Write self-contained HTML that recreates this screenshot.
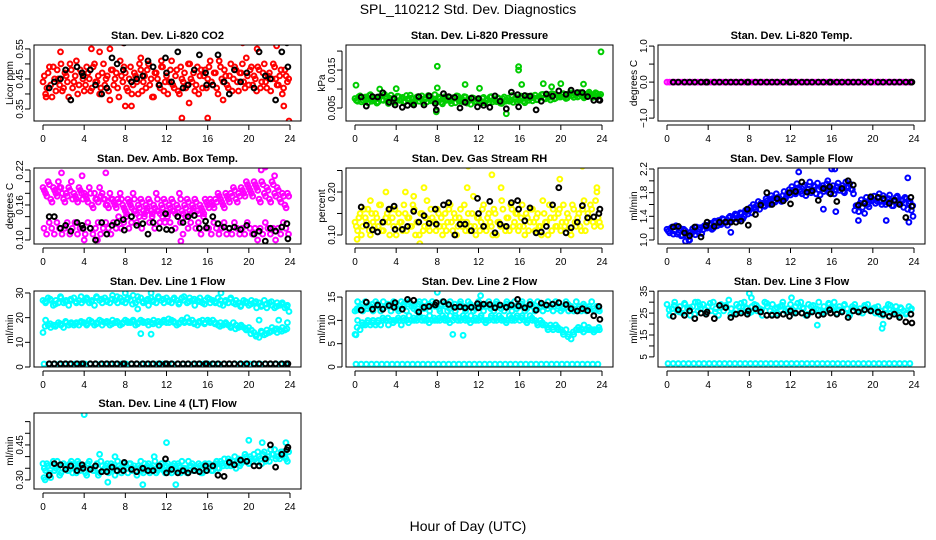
<!DOCTYPE html>
<html><head><meta charset="utf-8"><style>
html,body{margin:0;padding:0;background:#fff;}
svg{display:block;font-family:"Liberation Sans",Arial,sans-serif;}
</style></head><body>
<svg id="chart" width="936" height="540" viewBox="0 0 936 540" xmlns="http://www.w3.org/2000/svg">
<rect x="0" y="0" width="936" height="540" fill="#fff"/>
<text x="468" y="14" font-size="14" text-anchor="middle">SPL_110212  Std. Dev. Diagnostics</text>
<text x="468" y="531" font-size="14" text-anchor="middle">Hour of Day (UTC)</text>
</svg>
<script>
// ---- shared hour positions for black points ----
const blackHours=[0.6,1.1,1.7,2.2,2.7,3.3,3.8,3.9,4.6,5.1,5.7,6.2,6.7,7.2,7.8,7.9,8.6,9.1,9.7,10.2,10.7,11.3,11.9,12.0,12.5,13.1,13.6,14.1,14.7,15.2,15.8,15.9,16.5,17.0,17.6,18.1,18.6,19.2,19.8,20.5,21.0,21.6,22.1,22.6,23.2,23.7,23.8];
const xTicks=[0,4,8,12,16,20,24];

// ---- CO2 ----
const co2Main=[0.44,0.40,0.47,0.43,0.49,0.41,0.45,0.50,0.42,0.46,0.39,0.48,0.44,0.51,0.43,0.47,0.41,0.49,0.45,0.42,0.50,0.44,0.40,0.47,0.43,0.46,0.38,0.48,0.45,0.42,0.51,0.44,0.47,0.41,0.49,0.43,0.46,0.40,0.48,0.44,0.42,0.50,0.45,0.39,0.47,0.43,0.49,0.41,0.46,0.44,0.51,0.42,0.48,0.40,0.45,0.47,0.43,0.50,0.44,0.41,0.49,0.46,0.42,0.48,0.45,0.51,0.43,0.47,0.40,0.49,0.44,0.46,0.42,0.50,0.45,0.48,0.41,0.47,0.44,0.52,0.43,0.49,0.46,0.41,0.48,0.44,0.50,0.42,0.47,0.45,0.49,0.43,0.46,0.40,0.48,0.44];
const co2Main2=[0.46,0.42,0.49,0.39,0.45,0.48,0.43,0.41,0.47,0.44,0.50,0.42,0.46,0.40,0.48,0.45,0.43,0.47,0.41,0.49,0.44,0.46,0.42,0.50,0.45,0.41,0.48,0.43,0.47,0.39,0.46,0.49,0.42,0.45,0.40,0.47,0.44,0.50,0.41,0.46,0.48,0.43,0.39,0.47,0.45,0.42,0.49,0.44,0.40,0.48,0.43,0.46,0.41,0.49,0.44,0.42,0.50,0.45,0.47,0.43,0.40,0.48,0.46,0.42,0.49,0.44,0.47,0.42,0.51,0.45,0.48,0.43,0.46,0.41,0.49,0.44,0.47,0.50,0.42,0.46,0.48,0.43,0.45,0.49,0.42,0.47,0.44,0.46,0.41,0.50,0.45,0.43,0.48,0.42,0.46,0.45];
const co2OutX=[1.7,4.7,5.5,7.8,8.0,8.6,11.5,13.5,14.2,16.0,19.4,19.6,20.8,22.7,23.4,23.9,0.3,9.5,6.5,17.5];
const co2OutY=[0.54,0.55,0.54,0.57,0.36,0.36,0.51,0.32,0.37,0.32,0.57,0.58,0.55,0.56,0.36,0.31,0.39,0.52,0.55,0.38];
const co2Black=[0.42,0.44,0.45,0.48,0.38,0.49,0.47,0.46,0.48,0.43,0.40,0.42,0.52,0.50,0.48,0.57,0.44,0.45,0.46,0.51,0.49,0.43,0.52,0.47,0.44,0.54,0.42,0.43,0.48,0.53,0.47,0.43,0.43,0.53,0.44,0.40,0.48,0.44,0.47,0.42,0.54,0.46,0.45,0.38,0.54,0.57,0.49];

// ---- Pressure ----
const presMain=[0.0075,0.0068,0.0082,0.0071,0.0079,0.0064,0.0085,0.0072,0.0077,0.0066,0.0081,0.0070,0.0078,0.0062,0.0084,0.0073,0.0069,0.0080,0.0074,0.0065,0.0083,0.0071,0.0076,0.0063,0.0079,0.0068,0.0082,0.0072,0.0066,0.0078,0.0070,0.0085,0.0067,0.0075,0.0061,0.0080,0.0072,0.0069,0.0077,0.0064,0.0081,0.0071,0.0066,0.0079,0.0073,0.0060,0.0076,0.0068,0.0074,0.0063,0.0078,0.0070,0.0065,0.0080,0.0072,0.0067,0.0075,0.0062,0.0079,0.0071,0.0068,0.0083,0.0073,0.0066,0.0070,0.0077,0.0064,0.0081,0.0075,0.0069,0.0084,0.0072,0.0078,0.0086,0.0074,0.0080,0.0071,0.0087,0.0076,0.0082,0.0079,0.0088,0.0075,0.0083,0.0090,0.0078,0.0085,0.0081,0.0089,0.0077,0.0086,0.0092,0.0080,0.0084,0.0088,0.0082];
const presMain2=[0.0070,0.0080,0.0066,0.0077,0.0072,0.0083,0.0068,0.0075,0.0063,0.0079,0.0071,0.0086,0.0069,0.0076,0.0073,0.0065,0.0081,0.0070,0.0078,0.0067,0.0074,0.0084,0.0066,0.0072,0.0080,0.0075,0.0064,0.0077,0.0083,0.0069,0.0074,0.0067,0.0079,0.0065,0.0073,0.0070,0.0078,0.0062,0.0075,0.0082,0.0068,0.0074,0.0080,0.0063,0.0070,0.0077,0.0066,0.0073,0.0069,0.0076,0.0064,0.0072,0.0079,0.0066,0.0071,0.0077,0.0063,0.0074,0.0068,0.0076,0.0070,0.0065,0.0078,0.0072,0.0081,0.0068,0.0074,0.0070,0.0082,0.0077,0.0072,0.0080,0.0085,0.0076,0.0083,0.0078,0.0088,0.0074,0.0084,0.0079,0.0086,0.0081,0.0077,0.0089,0.0083,0.0087,0.0079,0.0091,0.0084,0.0080,0.0088,0.0085,0.0078,0.0090,0.0083,0.0086];
const presOutX=[0.1,8.0,8.0,10.7,12.1,15.9,15.9,16.2,18.3,19.1,20.0,22.2,23.9,14.7,7.9,2.4,4.0];
const presOutY=[0.0110,0.0160,0.0103,0.0112,0.0102,0.0159,0.0150,0.0112,0.0114,0.0106,0.0114,0.0113,0.0198,0.0035,0.0040,0.0100,0.0101];
const presBlack=[0.0079,0.0055,0.0080,0.0079,0.0090,0.0065,0.0075,0.0058,0.0052,0.0057,0.0058,0.0080,0.0058,0.0082,0.0062,0.0045,0.0088,0.0080,0.0078,0.0050,0.0065,0.0076,0.0053,0.0075,0.0057,0.0052,0.0082,0.0068,0.0048,0.0092,0.0085,0.0053,0.0083,0.0081,0.0045,0.0068,0.0087,0.0081,0.0095,0.0086,0.0097,0.0091,0.0091,0.0080,0.0070,0.0071,0.0070];

// ---- Li-820 Temp ----
const tempMain=[0,0,0,0,0,0,0,0,0,0,0,0,0,0,0,0,0,0,0,0,0,0,0,0,0,0,0,0,0,0,0,0,0,0,0,0,0,0,0,0,0,0,0,0,0,0,0,0,0,0,0,0,0,0,0,0,0,0,0,0,0,0,0,0,0,0,0,0,0,0,0,0,0,0,0,0,0,0,0,0,0,0,0,0,0,0,0,0,0,0,0,0,0,0,0,0];
const tempBlack=[0,0,0,0,0,0,0,0,0,0,0,0,0,0,0,0,0,0,0,0,0,0,0,0,0,0,0,0,0,0,0,0,0,0,0,0,0,0,0,0,0,0,0,0,0,0,0];

// ---- Amb. Box Temp ----
const ambUpper=[0.19,0.18,0.20,0.17,0.19,0.18,0.20,0.19,0.17,0.18,0.19,0.20,0.18,0.17,0.19,0.18,0.18,0.17,0.19,0.16,0.18,0.17,0.19,0.18,0.17,0.16,0.18,0.17,0.16,0.17,0.18,0.16,0.15,0.17,0.16,0.18,0.15,0.16,0.17,0.15,0.16,0.17,0.15,0.16,0.18,0.15,0.16,0.17,0.15,0.16,0.17,0.15,0.16,0.18,0.15,0.16,0.17,0.15,0.16,0.17,0.15,0.16,0.15,0.17,0.16,0.17,0.16,0.17,0.18,0.17,0.16,0.18,0.17,0.18,0.19,0.17,0.18,0.19,0.18,0.20,0.19,0.18,0.20,0.19,0.17,0.20,0.18,0.19,0.17,0.20,0.18,0.19,0.17,0.18,0.16,0.18];
const ambUpper2=[0.185,0.175,0.195,0.165,0.185,0.175,0.19,0.18,0.165,0.175,0.185,0.17,0.175,0.165,0.185,0.17,0.175,0.165,0.18,0.155,0.17,0.165,0.175,0.17,0.16,0.155,0.17,0.165,0.155,0.165,0.17,0.155,0.145,0.165,0.155,0.17,0.145,0.155,0.165,0.145,0.155,0.165,0.145,0.155,0.17,0.145,0.155,0.165,0.145,0.155,0.165,0.145,0.155,0.17,0.145,0.155,0.165,0.145,0.155,0.165,0.145,0.155,0.145,0.165,0.155,0.165,0.155,0.165,0.175,0.165,0.155,0.175,0.165,0.175,0.185,0.165,0.175,0.185,0.175,0.195,0.185,0.175,0.195,0.185,0.165,0.195,0.175,0.185,0.165,0.195,0.175,0.185,0.165,0.175,0.155,0.175];
const ambLower=[0.12,0.11,0.13,0.12,0.11,0.13,0.12,0.11,0.12,0.13,0.11,0.12,0.13,0.11,0.12,0.12,0.11,0.13,0.12,0.11,0.12,0.13,0.11,0.12,0.13,0.12,0.11,0.13,0.12,0.14,0.12,0.13,0.14,0.12,0.13,0.15,0.13,0.14,0.12,0.14,0.15,0.13,0.14,0.12,0.15,0.13,0.14,0.13,0.14,0.13,0.15,0.12,0.14,0.13,0.11,0.14,0.12,0.13,0.15,0.12,0.13,0.11,0.14,0.12,0.12,0.11,0.13,0.12,0.11,0.12,0.13,0.11,0.12,0.11,0.13,0.12,0.11,0.12,0.11,0.13,0.12,0.11,0.12,0.10,0.12,0.11,0.13,0.12,0.11,0.12,0.10,0.12,0.11,0.13,0.12,0.11];
const ambOutX=[1.8,3.8,6.1,5.3,13.4,21.2,21.6,22.5,4.0];
const ambOutY=[0.215,0.21,0.215,0.10,0.098,0.22,0.225,0.21,0.10];
const ambBlack=[0.14,0.14,0.12,0.125,0.115,0.13,0.125,0.12,0.12,0.10,0.13,0.11,0.125,0.13,0.135,0.117,0.14,0.125,0.128,0.11,0.13,0.12,0.145,0.118,0.117,0.14,0.13,0.14,0.142,0.12,0.132,0.121,0.14,0.128,0.122,0.12,0.122,0.118,0.125,0.11,0.115,0.098,0.12,0.115,0.122,0.128,0.102];

// ---- Gas Stream RH ----
const rhMain=[0.13,0.11,0.15,0.12,0.14,0.16,0.10,0.13,0.15,0.12,0.17,0.11,0.14,0.13,0.16,0.12,0.10,0.15,0.13,0.17,0.11,0.14,0.12,0.16,0.13,0.10,0.15,0.12,0.18,0.11,0.14,0.13,0.16,0.12,0.10,0.15,0.13,0.17,0.11,0.14,0.12,0.16,0.13,0.11,0.15,0.12,0.19,0.10,0.14,0.13,0.17,0.11,0.15,0.12,0.16,0.10,0.13,0.18,0.12,0.14,0.11,0.16,0.13,0.15,0.12,0.17,0.10,0.14,0.13,0.16,0.11,0.15,0.12,0.18,0.13,0.10,0.14,0.16,0.12,0.15,0.11,0.17,0.13,0.14,0.10,0.16,0.12,0.15,0.11,0.18,0.13,0.14,0.16,0.12,0.20,0.13];
const rhMain2=[0.12,0.14,0.10,0.16,0.13,0.11,0.15,0.12,0.14,0.17,0.11,0.13,0.15,0.10,0.14,0.16,0.12,0.13,0.11,0.15,0.14,0.12,0.17,0.10,0.13,0.15,0.11,0.14,0.12,0.16,0.13,0.11,0.15,0.14,0.12,0.11,0.16,0.13,0.15,0.10,0.14,0.12,0.17,0.13,0.11,0.15,0.12,0.14,0.11,0.16,0.12,0.14,0.13,0.10,0.15,0.13,0.12,0.16,0.11,0.14,0.17,0.12,0.15,0.11,0.14,0.12,0.15,0.11,0.16,0.13,0.14,0.12,0.10,0.15,0.13,0.17,0.11,0.14,0.12,0.16,0.13,0.12,0.15,0.11,0.17,0.13,0.14,0.12,0.16,0.11,0.15,0.17,0.13,0.18,0.14,0.12];
const rhOutX=[11.0,13.3,22.1,19.9,10.9,6.7,0.2,6.3,23.5,3.0,14.2,4.9,1.5,5.7];
const rhOutY=[0.26,0.24,0.26,0.23,0.21,0.21,0.09,0.08,0.21,0.20,0.21,0.20,0.18,0.19];
const rhBlack=[0.165,0.123,0.112,0.107,0.13,0.16,0.167,0.113,0.113,0.12,0.155,0.13,0.145,0.127,0.16,0.125,0.17,0.175,0.10,0.125,0.125,0.11,0.185,0.15,0.12,0.178,0.105,0.125,0.12,0.175,0.18,0.16,0.133,0.163,0.105,0.107,0.12,0.17,0.21,0.105,0.117,0.13,0.168,0.14,0.142,0.15,0.16];

// ---- Sample Flow ----
const sfMain=[1.18,1.12,1.22,1.15,1.10,1.20,1.08,1.16,1.05,1.13,1.19,1.09,1.14,1.21,1.17,1.25,1.22,1.28,1.20,1.30,1.33,1.26,1.35,1.30,1.38,1.32,1.36,1.42,1.34,1.45,1.40,1.48,1.50,1.46,1.55,1.58,1.52,1.62,1.57,1.66,1.60,1.70,1.64,1.72,1.68,1.75,1.70,1.80,1.76,1.84,1.78,1.88,1.82,1.90,1.75,1.86,1.80,1.92,1.78,1.85,1.88,1.82,1.95,1.80,1.86,1.78,1.90,1.84,1.92,1.80,1.88,1.95,1.85,1.50,1.58,1.62,1.55,1.65,1.60,1.70,1.68,1.62,1.72,1.65,1.75,1.60,1.70,1.66,1.58,1.72,1.64,1.68,1.55,1.70,1.62,1.50];
const sfMain2=[1.15,1.20,1.10,1.24,1.13,1.07,1.18,1.12,1.00,1.10,1.15,1.22,1.18,1.11,1.24,1.20,1.26,1.18,1.32,1.24,1.28,1.36,1.30,1.25,1.40,1.35,1.44,1.38,1.46,1.36,1.50,1.44,1.55,1.60,1.52,1.65,1.62,1.58,1.70,1.62,1.75,1.66,1.78,1.72,1.65,1.82,1.74,1.85,1.90,1.80,1.95,1.85,1.78,1.93,1.86,1.98,1.84,1.90,1.96,1.76,1.92,1.86,2.00,1.88,1.92,1.84,1.96,1.88,1.82,1.98,1.90,1.86,1.78,1.58,1.48,1.68,1.62,1.72,1.56,1.66,1.74,1.66,1.78,1.60,1.70,1.64,1.76,1.58,1.68,1.74,1.62,1.66,1.72,1.52,1.65,1.58];
const sfOutX=[16.0,16.3,12.8,23.4,6.2,15.2,16.4,19.2,21.3,23.5,18.6,23.9,1.8,2.2];
const sfOutY=[2.2,2.2,2.15,2.05,1.13,1.52,1.48,1.45,1.33,1.30,1.33,1.40,0.98,1.0];
const sfBlack=[1.22,1.23,1.12,1.07,1.22,1.05,1.24,1.30,1.23,1.30,1.30,1.30,1.30,1.32,1.52,1.25,1.43,1.59,1.80,1.60,1.70,1.66,1.80,1.61,1.82,1.98,1.81,1.83,1.67,1.87,1.90,1.78,1.65,1.87,2.00,1.93,1.59,1.62,1.73,1.72,1.70,1.62,1.67,1.60,1.38,1.72,1.57];

// ---- Line 1 Flow ----
const l1Top=[27,26,28,27,25,27,26,28,26,27,25,27,28,26,27,26,27,28,26,27,25,28,27,26,28,27,26,29,27,26,28,27,26,28,27,29,26,27,28,26,27,25,28,27,26,28,27,26,28,27,26,28,27,26,28,27,26,28,27,25,27,28,26,27,28,26,27,26,28,27,25,27,26,28,26,27,26,25,27,26,25,27,26,24,26,25,27,24,26,25,24,26,25,26,24,25];
const l1Top2=[26.5,27.5,25.5,28.5,26.5,27.5,26.5,28.5,27.5,26.5,28.5,27.5,26.5,27.5,28.5,26.5,27.5,25.5,28.5,26.5,27.5,26.5,28.5,27.5,26.5,27.5,25.5,28.5,26.5,27.5,26.5,25.5,27.5,26.5,25.5,26.5,27.5,25.5,24.5,26.5,25.5,26.5,24.5,25.5,26.5,24.5,25.5,24.5];
const l1Mid=[14,19,17,16,17,17,18,17,16,18,17,18,17,18,17,18,18,17,19,18,17,18,19,17,18,18,17,19,18,18,17,18,19,18,18,19,17,18,19,18,18,17,18,19,18,17,18,19,18,18,19,18,17,18,19,18,20,18,19,18,17,18,19,18,19,18,19,18,17,18,17,18,17,16,18,17,16,17,16,15,16,15,14,13,12,14,13,15,14,16,15,14,15,16,15,18];
const l1Mid2=[16.5,17.5,16.5,17.5,18.5,17.5,17.5,18.5,17.5,18.5,17.5,18.5,18.5,17.5,18.5,17.5,18.5,18.5,17.5,18.5,18.5,17.5,18.5,18.5,19.5,18.5,17.5,18.5,18.5,17.5,18.5,17.5,18.5,17.5,16.5,17.5,16.5,15.5,16.5,15.5,13.5,12.5,14.5,13.5,14.5,15.5,14.5,15.5];
const l1Bot=[1.2,1.2,1.2,1.2,1.2,1.2,1.2,1.2,1.2,1.2,1.2,1.2,1.2,1.2,1.2,1.2,1.2,1.2,1.2,1.2,1.2,1.2,1.2,1.2,1.2,1.2,1.2,1.2,1.2,1.2,1.2,1.2,1.2,1.2,1.2,1.2,1.2,1.2,1.2,1.2,1.2,1.2,1.2,1.2,1.2,1.2,1.2,1.2];
const l1OutX=[9.5,10.5,8.0,10.5,17.3,21.0,22.9,23.9,9.2];
const l1OutY=[13.5,13.3,30,30,30,19,19,22.5,23.5];
const l1Black=[1.3,1.3,1.3,1.3,1.3,1.3,1.3,1.3,1.3,1.3,1.3,1.3,1.3,1.3,1.3,1.3,1.3,1.3,1.3,1.3,1.3,1.3,1.3,1.3,1.3,1.3,1.3,1.3,1.3,1.3,1.3,1.3,1.3,1.3,1.3,1.3,1.3,1.3,1.3,1.3,1.3,1.3,1.3,1.3,1.3,1.3,1.3];

// ---- Line 2 Flow ----
const l2Top=[12,14,13,12,14,13,13,12,14,13,12,14,13,13,12,14,13,12,14,13,12,14,13,13,12,14,13,14,13,12,14,13,13,12,14,13,12,14,13,12,13,14,13,12,14,13,12,13,14,13,12,13,14,13,12,14,13,13,12,14,13,12,14,13,13,14,12,13,14,13,12,14,13,12,13,14,13,12,14,13,12,13,14,12,13,12,14,13,12,13,12,13,14,12,13,12];
const l2Top2=[12.5,13.5,12.5,13.5,13.5,12.5,13.5,13.5,12.5,13.5,13.5,12.5,13.5,12.5,13.5,13.5,12.5,13.5,12.5,13.5,13.5,12.5,13.5,12.5,13.5,13.5,12.5,13.5,12.5,13.5,13.5,12.5,13.5,12.5,13.5,12.5,13.5,12.5,13.5,12.5,12.5,13.5,12.5,12.5,13.5,12.5,12.5,12.5];
const l2Mid=[7,10,8,9,9,10,9,10,9,10,9,10,10,9,10,10,10,10,9,10,10,11,10,10,10,11,10,10,10,11,10,10,10,10,11,10,10,11,10,11,10,10,11,10,10,11,10,10,10,11,10,10,10,11,10,10,11,10,10,10,11,10,10,11,10,11,10,10,11,10,10,9,10,9,9,8,9,8,9,8,8,7,8,7,6,7,8,8,8,9,8,8,8,8,8,8];
const l2Mid2=[8.5,9.5,9.5,9.5,9.5,10.5,10.5,9.5,10.5,10.5,9.5,10.5,10.5,10.5,9.5,10.5,10.5,10.5,9.5,10.5,10.5,10.5,9.5,10.5,10.5,9.5,10.5,10.5,10.5,9.5,10.5,10.5,10.5,9.5,10.5,9.5,9.5,8.5,8.5,8.5,7.5,6.5,7.5,8.5,7.5,8.5,7.5,8.5];
const l2Bot=[0.6,0.6,0.6,0.6,0.6,0.6,0.6,0.6,0.6,0.6,0.6,0.6,0.6,0.6,0.6,0.6,0.6,0.6,0.6,0.6,0.6,0.6,0.6,0.6,0.6,0.6,0.6,0.6,0.6,0.6,0.6,0.6,0.6,0.6,0.6,0.6,0.6,0.6,0.6,0.6,0.6,0.6,0.6,0.6,0.6,0.6,0.6,0.6];
const l2OutX=[9.5,10.5,8.0,12.2,0.1,0.2];
const l2OutY=[7,6.8,16,15.3,6.9,12.2];
const l2Black=[12.2,13.9,12.4,13.3,12.4,13.2,12.8,13.8,12.4,14.5,14.3,11.8,12.8,13,13.3,13.8,14,13.4,12.8,12.9,12.7,12.8,13.6,12.7,13.5,13.4,12.7,13.3,12.8,13.3,14.5,13.1,12.7,13.4,12.2,13.7,13.3,13.5,13.8,13.4,12.5,12,12.5,12.1,11,13,10.2];

// ---- Line 3 Flow ----
const l3Top=[29,24,27,30,26,28,25,29,27,24,28,30,26,27,29,25,28,26,30,27,24,29,26,28,31,27,25,29,28,26,30,27,25,28,29,26,27,24,30,28,26,29,27,25,28,30,26,27,29,25,28,26,30,27,24,29,28,26,27,30,25,28,26,29,27,30,25,28,26,29,27,24,28,29,26,27,25,28,29,26,27,25,28,26,24,27,29,25,26,28,24,27,26,25,28,27];
const l3Top2=[26.5,28.5,25.5,29.5,27.5,24.5,28.5,26.5,29.5,25.5,27.5,28.5,24.5,26.5,29.5,27.5,25.5,28.5,26.5,29.5,24.5,27.5,28.5,25.5,26.5,29.5,27.5,24.5,28.5,26.5,25.5,29.5,27.5,26.5,28.5,24.5,27.5,25.5,28.5,26.5,27.5,24.5,26.5,28.5,25.5,27.5,24.5,26.5];
const l3Bot=[2,2,2,2,2,2,2,2,2,2,2,2,2,2,2,2,2,2,2,2,2,2,2,2,2,2,2,2,2,2,2,2,2,2,2,2,2,2,2,2,2,2,2,2,2,2,2,2];
const l3OutX=[8.0,8.2,14.6,20.9,21.0,12.1,3.0];
const l3OutY=[34,32,19.5,18,20,32,30];
const l3Black=[23.5,26.5,24,26,22.5,25,24.5,25.5,22.5,28.5,27.5,23,24.5,25,24.5,26,27,25.5,24,24,24,24.5,23.5,26,25,25,24,25.5,24,24.5,26.5,25,24.5,25.5,23,26,25.5,26.5,26,25.5,24.5,23.5,24.5,23,21,24.5,20.5];

// ---- Line 4 (LT) Flow ----
const l4Main=[0.37,0.34,0.36,0.31,0.38,0.35,0.36,0.33,0.37,0.35,0.34,0.38,0.36,0.33,0.37,0.35,0.36,0.32,0.38,0.35,0.34,0.37,0.33,0.36,0.35,0.37,0.34,0.36,0.32,0.38,0.35,0.34,0.36,0.33,0.37,0.35,0.34,0.36,0.38,0.33,0.35,0.37,0.34,0.36,0.33,0.35,0.37,0.34,0.36,0.35,0.33,0.37,0.34,0.36,0.38,0.35,0.33,0.36,0.37,0.34,0.35,0.36,0.33,0.37,0.35,0.36,0.34,0.37,0.35,0.38,0.36,0.37,0.39,0.36,0.38,0.35,0.39,0.37,0.38,0.40,0.37,0.39,0.41,0.38,0.40,0.37,0.42,0.39,0.38,0.41,0.43,0.40,0.39,0.42,0.40,0.38];
const l4Main2=[0.35,0.37,0.33,0.36,0.34,0.38,0.32,0.35,0.36,0.34,0.37,0.33,0.35,0.38,0.34,0.36,0.33,0.37,0.35,0.34,0.36,0.32,0.38,0.34,0.36,0.33,0.37,0.35,0.34,0.36,0.33,0.37,0.35,0.37,0.34,0.36,0.32,0.35,0.34,0.37,0.36,0.33,0.35,0.38,0.34,0.36,0.35,0.33,0.37,0.34,0.36,0.35,0.37,0.33,0.35,0.34,0.38,0.36,0.34,0.35,0.37,0.33,0.36,0.35,0.37,0.34,0.36,0.38,0.35,0.37,0.39,0.36,0.38,0.37,0.40,0.38,0.36,0.39,0.41,0.38,0.40,0.38,0.39,0.42,0.39,0.41,0.38,0.40,0.43,0.41,0.39,0.40,0.42,0.41,0.39,0.42];
const l4OutX=[4.0,12.0,20.0,21.3,23.6,5.5,7.0,10.8,6.3,9.7,12.9,0.1,0.2];
const l4OutY=[0.58,0.46,0.47,0.46,0.46,0.41,0.40,0.40,0.29,0.28,0.28,0.31,0.30];
const l4Black=[0.32,0.37,0.365,0.345,0.36,0.34,0.365,0.35,0.345,0.36,0.335,0.335,0.355,0.34,0.34,0.375,0.345,0.335,0.35,0.34,0.34,0.36,0.39,0.33,0.345,0.33,0.34,0.33,0.34,0.335,0.36,0.34,0.36,0.32,0.315,0.375,0.365,0.385,0.38,0.36,0.36,0.39,0.45,0.355,0.41,0.43,0.44];

// ---- rendering ----
const NS='http://www.w3.org/2000/svg';
const svg=document.getElementById('chart');
const BW=267,BH=76,R=2.4,SW=2;
function mk(tag,attrs,parent){const e=document.createElementNS(NS,tag);for(const k in attrs)e.setAttribute(k,attrs[k]);(parent||svg).appendChild(e);return e;}
function idxHours(n,step,off){const a=[];for(let i=0;i<n;i++)a.push(i*step+off);return a;}

const panels=[
 {key:'co2',title:'Stan. Dev. Li-820 CO2',yl:'Licor ppm',L:34,T:45,y0:0.31,y1:0.563,ticks:[0.35,0.40,0.45,0.50,0.55],labs:['0.35','','0.45','','0.55'],col:'#ff0000',
  series:[[co2Main,96,0.25,0],[co2Main2,96,0.25,0.125]],out:[co2OutX,co2OutY],black:co2Black},
 {key:'pressure',title:'Stan. Dev. Li-820 Pressure',yl:'kPa',L:346,T:45,y0:0.00158,y1:0.0216,ticks:[0.005,0.010,0.015,0.020],labs:['0.005','','0.015',''],col:'#00cc00',
  series:[[presMain,96,0.25,0],[presMain2,96,0.25,0.125]],out:[presOutX,presOutY],black:presBlack},
 {key:'licor-temp',title:'Stan. Dev. Li-820 Temp.',yl:'degrees C',L:658,T:45,y0:-1.08,y1:1.03,ticks:[-1,-0.5,0,0.5,1],labs:['\u22121.0','','0.0','','1.0'],col:'#ff00ff',
  series:[[tempMain,96,0.25,0]],out:null,black:tempBlack},
 {key:'amb-box-temp',title:'Stan. Dev. Amb. Box Temp.',yl:'degrees C',L:34,T:168,y0:0.0931,y1:0.2234,ticks:[0.10,0.12,0.14,0.16,0.18,0.20,0.22],labs:['0.10','','','0.16','','','0.22'],col:'#ff00ff',
  series:[[ambUpper,96,0.25,0],[ambUpper2,96,0.25,0.125],[ambLower,96,0.25,0.1]],out:[ambOutX,ambOutY],black:ambBlack},
 {key:'gas-rh',title:'Stan. Dev. Gas Stream RH',yl:'percent',L:346,T:168,y0:0.079,y1:0.2558,ticks:[0.10,0.15,0.20,0.25],labs:['0.10','','0.20',''],col:'#ffff00',
  series:[[rhMain,96,0.25,0],[rhMain2,96,0.25,0.125]],out:[rhOutX,rhOutY],black:rhBlack},
 {key:'sample-flow',title:'Stan. Dev. Sample Flow',yl:'ml/min',L:658,T:168,y0:0.932,y1:2.217,ticks:[1.0,1.2,1.4,1.6,1.8,2.0,2.2],labs:['1.0','','1.4','','1.8','','2.2'],col:'#0000ff',
  series:[[sfMain,96,0.25,0],[sfMain2,96,0.25,0.125]],out:[sfOutX,sfOutY],black:sfBlack},
 {key:'line1-flow',title:'Stan. Dev. Line 1 Flow',yl:'ml/min',L:34,T:291,y0:0,y1:30.8,ticks:[0,10,20,30],labs:['0','10','20','30'],col:'#00ffff',
  series:[[l1Top,96,0.25,0],[l1Top2,48,0.5,0.2],[l1Mid,96,0.25,0],[l1Mid2,48,0.5,0.2],[l1Bot,48,0.5,0.1]],out:[l1OutX,l1OutY],black:l1Black},
 {key:'line2-flow',title:'Stan. Dev. Line 2 Flow',yl:'ml/min',L:346,T:291,y0:0,y1:16.3,ticks:[0,5,10,15],labs:['0','5','10','15'],col:'#00ffff',
  series:[[l2Top,96,0.25,0],[l2Top2,48,0.5,0.2],[l2Mid,96,0.25,0],[l2Mid2,48,0.5,0.2],[l2Bot,48,0.5,0.1]],out:[l2OutX,l2OutY],black:l2Black},
 {key:'line3-flow',title:'Stan. Dev. Line 3 Flow',yl:'ml/min',L:658,T:291,y0:0.38,y1:35.1,ticks:[5,10,15,20,25,30,35],labs:['5','','15','','25','','35'],col:'#00ffff',
  series:[[l3Top,96,0.25,0],[l3Top2,48,0.5,0.2],[l3Bot,48,0.5,0.1]],out:[l3OutX,l3OutY],black:l3Black},
 {key:'line4-flow',title:'Stan. Dev. Line 4 (LT) Flow',yl:'ml/min',L:34,T:413,y0:0.261,y1:0.587,ticks:[0.30,0.35,0.40,0.45,0.50,0.55],labs:['0.30','','','0.45','',''],col:'#00ffff',
  series:[[l4Main,96,0.25,0],[l4Main2,96,0.25,0.125]],out:[l4OutX,l4OutY],black:l4Black}
];

panels.forEach(p=>{
  const g=mk('g',{});
  
  
  const xs=h=>p.L+9+h*(247/24);
  const ys=v=>p.T+BH-(v-p.y0)/(p.y1-p.y0)*BH;
  const t=mk('text',{x:p.L+BW/2,y:p.T-6,'font-size':11,'font-weight':'bold','text-anchor':'middle'},g);
  t.textContent=p.title;
  
  
  const yl=mk('text',{transform:`translate(${p.L-21},${p.T+BH/2}) rotate(-90)`,'font-size':10,'text-anchor':'middle'},g);
  yl.textContent=p.yl;
  
  
  const xa=mk('g',{},g);
  
  
  mk('line',{x1:xs(0),x2:xs(24),y1:p.T+BH+4,y2:p.T+BH+4,stroke:'#000','stroke-width':1},xa);
  xTicks.forEach(h=>{
    mk('line',{x1:xs(h),x2:xs(h),y1:p.T+BH+4,y2:p.T+BH+9,stroke:'#000','stroke-width':1},xa);
    const tl=mk('text',{x:xs(h),y:p.T+BH+21,'font-size':10,'text-anchor':'middle'},xa);
    tl.textContent=String(h);
  });
  const ya=mk('g',{},g);
  
  
  mk('line',{x1:p.L-4,x2:p.L-4,y1:ys(p.ticks[0]),y2:ys(p.ticks[p.ticks.length-1]),stroke:'#000','stroke-width':1},ya);
  p.ticks.forEach((v,i)=>{
    const y=ys(v);
    mk('line',{x1:p.L-9,x2:p.L-4,y1:y,y2:y,stroke:'#000','stroke-width':1},ya);
    if(p.labs[i]){const tl=mk('text',{transform:`translate(${p.L-11},${y}) rotate(-90)`,'font-size':10,'text-anchor':'middle'},ya);tl.textContent=p.labs[i];}
  });
  const pts=mk('g',{fill:'none',stroke:p.col,'stroke-width':SW},g);
  
  
  p.series.forEach(s=>{
    const arr=s[0],hrs=idxHours(s[1],s[2],s[3]);
    arr.forEach((v,i)=>{mk('circle',{cx:xs(hrs[i]).toFixed(1),cy:ys(v).toFixed(1),r:R},pts);});
  });
  if(p.out){p.out[0].forEach((h,i)=>{mk('circle',{cx:xs(h).toFixed(1),cy:ys(p.out[1][i]).toFixed(1),r:R},pts);});}
  const bp=mk('g',{fill:'none',stroke:'#000','stroke-width':SW},g);
  
  
  const n=Math.min(blackHours.length,p.black.length);
  for(let i=0;i<n;i++){mk('circle',{cx:xs(blackHours[i]).toFixed(1),cy:ys(p.black[i]).toFixed(1),r:R},bp);}
  const box=mk('rect',{x:p.L,y:p.T,width:BW,height:BH,fill:'none',stroke:'#000','stroke-width':1},g);
  
  
  const clip=mk('clipPath',{id:'c-'+p.key},g);
  mk('rect',{x:p.L,y:p.T,width:BW,height:BH},clip);
  pts.setAttribute('clip-path','url(#c-'+p.key+')');
  bp.setAttribute('clip-path','url(#c-'+p.key+')');
});
</script>
</body></html>
